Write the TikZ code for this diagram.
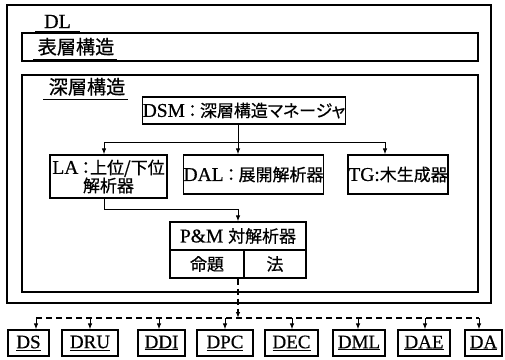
\documentclass[tikz,border=0pt]{standalone}
\usepackage{fontspec}
\setmainfont[FakeBold=0.6]{Liberation Serif}
\newfontfamily\jp[Scale=0.87,RawFeature=+palt,FakeBold=0.6]{Noto Sans CJK JP}
\newfontfamily\jpt[Scale=0.87,FakeBold=0.6]{Noto Sans CJK JP}
\usetikzlibrary{arrows.meta,calc}
\begin{document}
\begin{tikzpicture}[x=1pt,y=-1pt,
  frame/.style={draw,line width=1.4pt},
  box/.style={draw,line width=1.2pt,inner sep=0pt,align=center,font=\fontsize{19.5}{19}\selectfont},
  bbox/.style={draw,line width=1.2pt,inner sep=0pt,minimum height=26pt,font=\fontsize{19}{20}\selectfont},
  ttl/.style={anchor=base,inner sep=0pt,font=\fontsize{22}{22}\selectfont},
  ln/.style={line width=1pt},
  arr/.style={ln,-{Latex[length=6pt,width=4.5pt]}},
  dsh/.style={line width=1.2pt,dash pattern=on 6pt off 4pt}]
\useasboundingbox (0,0) rectangle (505,359);
% frames
\draw[frame] (7,5) rectangle (491,303);
\draw[frame] (22,33) rectangle (478,61);
\draw[frame] (22,75) rectangle (478,292);
% titles
\node[ttl,font=\fontsize{20}{20}\selectfont] (tdl) at (57.5,28) {DL};
\draw[ln] (35,31) -- (80,31);
\node[ttl] (tsurf) at (76,54) {\jpt 表層構造};
\draw[ln] (33,59) -- (117,59);
\node[ttl] (tdeep) at (87,94) {\jpt 深層構造};
\draw[ln] (43,99) -- (128,99);
% boxes
\node[box,minimum width=198pt,minimum height=27pt] (dsm) at (244,110.5) {DSM\,{\jp ：}\,{\jp 深層構造マネージャ}};
\node[box,minimum width=117pt,minimum height=43pt] (la) at (108.5,176.5) {LA\,{\jp ：上位/下位}\\[-1pt]{\jp 解析器}};
\node[box,minimum width=139pt,minimum height=39pt] (dal) at (253.5,174.5) {DAL\,{\jp ：}\,{\jp 展開解析器}};
\node[box,minimum width=100pt,minimum height=39pt] (tg) at (398,174.5) {TG:{\jp 木生成器}};
\node[box,minimum width=136pt,minimum height=28pt] (pm) at (238,236) {P\&M {\jp 対解析器}};
\node[box,minimum width=74pt,minimum height=28pt] (mt) at (207,264) {\jp 命題};
\node[box,minimum width=62pt,minimum height=28pt] (ho) at (275,264) {\jp 法};
% bus from DSM
\coordinate (busL) at (104,142);
\coordinate (busM) at (238,142);
\coordinate (busR) at (385,142);
\draw[ln] (dsm.south -| busM) -- (busM);
\draw[ln] (busL) -- (busR);
\draw[arr] (busL) -- (busL |- la.north);
\draw[arr] (busM) -- (busM |- dal.north);
\draw[arr] (busR) -- (busR |- tg.north);
% LA to P&M
\coordinate (lab) at (104,209);
\draw[arr] (lab |- la.south) -- (lab) -- (lab -| pm.north) -- (pm.north);
% bottom boxes
\node[bbox,minimum width=41pt] (ds) at (28.5,343) {\underline{DS}};
\node[bbox,minimum width=56pt] (dru) at (90,343) {\underline{DRU}};
\node[bbox,minimum width=47pt] (ddi) at (161.5,343) {\underline{DDI}};
\node[bbox,minimum width=56pt] (dpc) at (225,343) {\underline{DPC}};
\node[bbox,minimum width=53pt] (dec) at (291.5,343) {\underline{DEC}};
\node[bbox,minimum width=52pt] (dml) at (359,343) {\underline{DML}};
\node[bbox,minimum width=52pt] (dae) at (424,343) {\underline{DAE}};
\node[bbox,minimum width=37pt] (da) at (483.5,343) {\underline{DA}};
% dashed distribution
\coordinate (j) at (238,318);
\coordinate (a1) at (36,318);
\coordinate (a2) at (90,318);
\coordinate (a3) at (159,318);
\coordinate (a4) at (225,318);
\coordinate (a5) at (292,318);
\coordinate (a6) at (358,318);
\coordinate (a7) at (425,318);
\coordinate (a8) at (479,318);
\draw[dsh,-{Latex[length=6pt,width=4.5pt]}] (mt.south -| j) -- (j);
\draw[dsh] (a1) -- (a8);
\foreach \a/\b in {a1/ds,a2/dru,a3/ddi,a4/dpc,a5/dec,a6/dml,a7/dae,a8/da}
  \draw[arr] (\a) -- (\a |- \b.north);
\end{tikzpicture}
\end{document}
